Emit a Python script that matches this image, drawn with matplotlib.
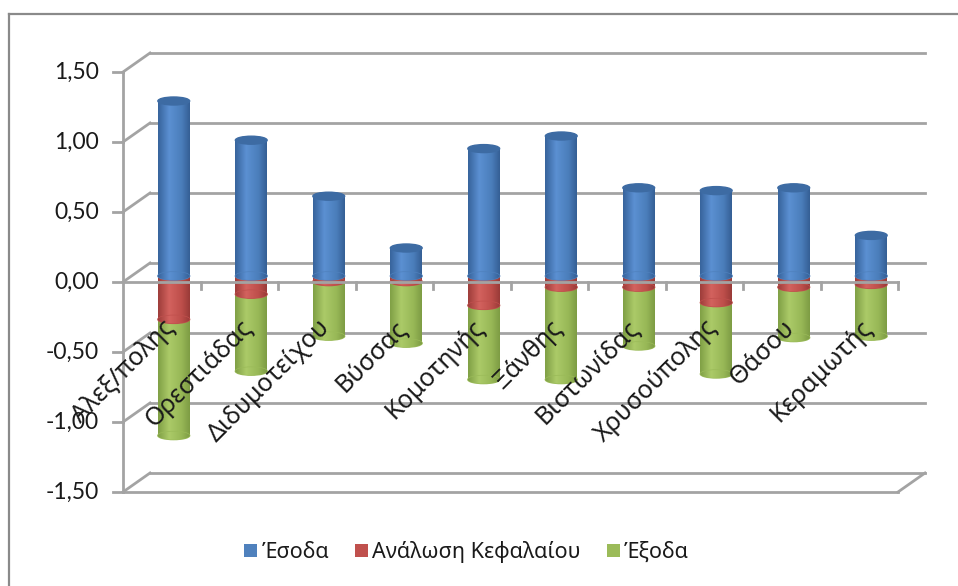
import matplotlib
matplotlib.use("Agg")
import matplotlib.pyplot as plt
import numpy as np
from matplotlib.colors import LinearSegmentedColormap
from matplotlib.patches import Ellipse, Patch

plt.rcParams['font.family'] = ['Noto Sans', 'DejaVu Sans']

# data
categories = ["Αλεξ/πολης", "Ορεστιάδας", "Διδυμοτείχου", "Βύσσας", "Κομοτηνής",
              "Ξάνθης", "Βιστωνίδας", "Χρυσούπολης", "Θάσου", "Κεραμωτής"]
esoda = [1.25, 0.97, 0.57, 0.20, 0.91, 1.00, 0.63, 0.61, 0.63, 0.29]
analosi = [-0.31, -0.13, -0.04, -0.04, -0.21, -0.08, -0.08, -0.19, -0.08, -0.06]
exoda = [-0.83, -0.55, -0.39, -0.44, -0.53, -0.66, -0.42, -0.51, -0.36, -0.37]
series_names = ["Έσοδα", "Ανάλωση Κεφαλαίου", "Έξοδα"]
yticks = [-1.5, -1.0, -0.5, 0.0, 0.5, 1.0, 1.5]

base_colors = ["#4F81BD", "#C0504D", "#9BBB59"]
shades = [
    ["#37649c", "#5b90d2", "#4a7dba", "#355f95"],
    ["#9e3d3a", "#d3625e", "#bd4e4a", "#993b38"],
    ["#80a046", "#abca68", "#97b756", "#7d9c44"],
]
cap_color = "#3d6ba3"
grid_c = "#a3a3a3"
text_c = "#1a1a1a"

fig = plt.figure(figsize=(9.58, 5.86), dpi=100)
# front plane of the 3d box
ax = fig.add_axes([123 / 958, 94 / 586, 775 / 958, 420 / 586])
ax.set_xlim(0, 10)
ax.set_ylim(-1.5, 1.5)
ax.axis("off")

px_x = 77.5   # pixels per category
px_y = 140.0  # pixels per unit
dxb, dyb = 27 / px_x, 19 / px_y   # back wall offset
dxc, dyc = 12 / px_x, 6 / px_y    # cylinder depth offset
bw = 0.41
eh = 8 / px_y

# back wall grid + left wall diagonals
for v in yticks:
    ax.plot([dxb, 10 + dxb], [v + dyb, v + dyb], color=grid_c, lw=2, clip_on=False, zorder=1)
    ax.plot([0, dxb], [v, v + dyb], color=grid_c, lw=2, clip_on=False, zorder=1)
    ax.plot([-10 / px_x, 0], [v, v], color=grid_c, lw=2, clip_on=False, zorder=1)
    ax.text(-24 / px_x, v, f"{v:.2f}".replace(".", ","), ha="right", va="center",
            fontsize=16.5, color=text_c, family=["Lato", "DejaVu Sans"])
# floor front edge and right edge
ax.plot([0, 10], [-1.5, -1.5], color=grid_c, lw=2, clip_on=False, zorder=1)
ax.plot([10, 10 + dxb], [-1.5, -1.5 + dyb], color=grid_c, lw=2, clip_on=False, zorder=1)
# front value axis
ax.plot([0, 0], [-1.5, 1.5], color=grid_c, lw=2, clip_on=False, zorder=1)

x = np.arange(len(categories)) + 0.5 + dxc
grad = np.linspace(0, 1, 64).reshape(1, -1)


def shaded_segments(vals, bottoms, k, z):
    cmap = LinearSegmentedColormap.from_list(f"c{k}", list(zip([0, 0.35, 0.75, 1], shades[k])))
    bars = ax.bar(x, vals, bottom=bottoms, width=bw, color=base_colors[k], zorder=z)
    for xi, bar in zip(x, bars):
        lo, hi = sorted([bar.get_y(), bar.get_y() + bar.get_height()])
        im = ax.imshow(grad, cmap=cmap, extent=(xi - bw / 2, xi + bw / 2, lo, hi),
                       aspect="auto", zorder=z + 0.1, interpolation="bilinear")
        im.set_clip_path(bar)
        el = Ellipse((xi, lo), bw, eh, color=base_colors[k], zorder=z + 0.2)
        ax.add_patch(el)
        im2 = ax.imshow(grad, cmap=cmap, extent=(xi - bw / 2, xi + bw / 2, lo - eh, lo + eh),
                        aspect="auto", zorder=z + 0.3, interpolation="bilinear")
        im2.set_clip_path(el)
    return bars


red_bottom = np.zeros(len(categories)) + dyc
green_bottom = np.array(analosi) + dyc
shaded_segments(exoda, green_bottom, 2, 3)
shaded_segments(analosi, red_bottom, 1, 4)
shaded_segments(esoda, red_bottom, 0, 5)
for xi, v in zip(x, esoda):
    ax.add_patch(Ellipse((xi, v + dyc), bw, eh, color=cap_color, zorder=6))

ax.set_xlim(0, 10)
ax.set_ylim(-1.5, 1.5)

# category axis at zero, drawn in front of the cylinders
ax.plot([0, 10], [0, 0], color=grid_c, lw=2, clip_on=False, zorder=8)
for i in range(1, len(categories) + 1):
    ax.plot([i, i], [0, -7 / px_y], color=grid_c, lw=2, clip_on=False, zorder=8)
for i, name in enumerate(categories):
    ax.text(i + 0.62, -0.3, name, rotation=45, rotation_mode="anchor",
            ha="right", va="center", fontsize=18, color=text_c, zorder=9)

handles = [Patch(facecolor=c, edgecolor="none") for c in base_colors]
fig.legend(handles, series_names, loc="center", bbox_to_anchor=(0.487, 0.058), ncol=3,
           frameon=False, fontsize=15.5, handlelength=0.6, handleheight=0.6,
           handletextpad=0.2, columnspacing=1.2, labelcolor=text_c)

# chart area frame
fig.add_artist(plt.Line2D([9 / 958, 9 / 958], [0, 1 - 14 / 586], color="#8a8a8a", lw=1.6))
fig.add_artist(plt.Line2D([9 / 958, 1], [1 - 14 / 586, 1 - 14 / 586], color="#8a8a8a", lw=1.6))

fig.savefig("out.png", dpi=100)
